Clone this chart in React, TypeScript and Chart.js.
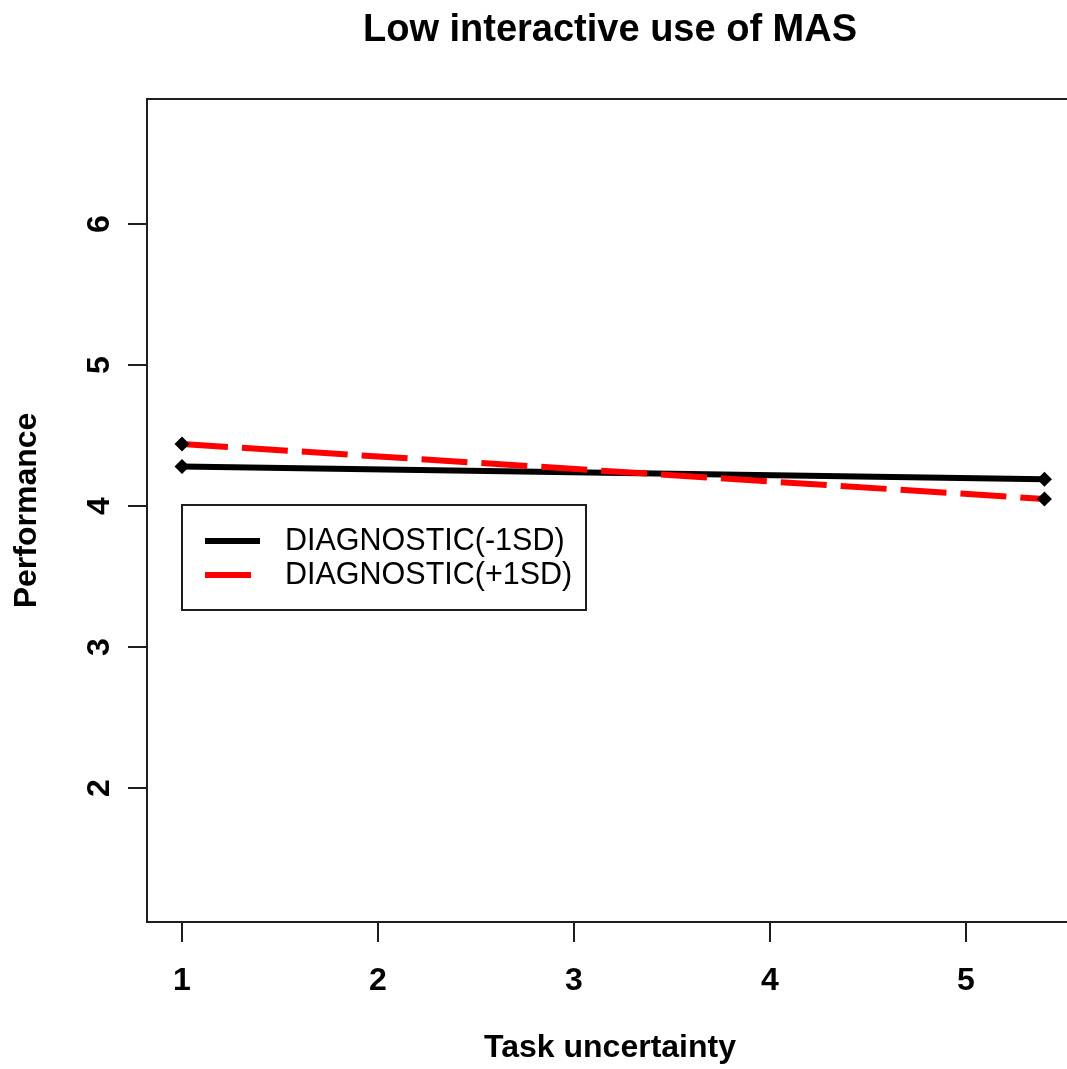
import React, { useEffect, useRef } from "react";
import { Chart, registerables } from "chart.js";

Chart.register(...registerables);

const TITLE = "Low interactive use of MAS";
const X_LABEL = "Task uncertainty";
const Y_LABEL = "Performance";

const xValues = [1, 5.4];
const diagLow = [4.28, 4.19];
const diagHigh = [4.44, 4.05];
const seriesLabels = ["DIAGNOSTIC(-1SD)", "DIAGNOSTIC(+1SD)"];
const xTicks = [1, 2, 3, 4, 5];
const yTicks = [2, 3, 4, 5, 6];

const FONT = '"Liberation Sans", Arial, Helvetica, sans-serif';

const rPlot = {
  id: "rPlot",
  beforeDatasetsDraw(chart: any) {
    const { ctx, chartArea: a, scales } = chart;
    const x = scales.x;
    const y = scales.y;
    ctx.save();
    ctx.strokeStyle = "#1e1e1e";
    ctx.lineWidth = 2;
    ctx.beginPath();
    ctx.moveTo(chart.width + 5, a.top);
    ctx.lineTo(a.left, a.top);
    ctx.lineTo(a.left, a.bottom);
    ctx.lineTo(chart.width + 5, a.bottom);
    ctx.stroke();

    ctx.fillStyle = "#000";
    ctx.font = `bold 32px ${FONT}`;
    ctx.textAlign = "center";
    ctx.textBaseline = "middle";
    ctx.lineWidth = 2;
    for (const t of xTicks) {
      const px = Math.round(x.getPixelForValue(t));
      ctx.beginPath();
      ctx.moveTo(px, a.bottom);
      ctx.lineTo(px, a.bottom + 20);
      ctx.stroke();
      ctx.fillText(String(t), px, 981);
    }
    for (const t of yTicks) {
      const py = Math.round(y.getPixelForValue(t));
      ctx.beginPath();
      ctx.moveTo(a.left - 19, py);
      ctx.lineTo(a.left, py);
      ctx.stroke();
      ctx.save();
      ctx.translate(99, py);
      ctx.rotate(-Math.PI / 2);
      ctx.fillText(String(t), 0, 1);
      ctx.restore();
    }

    ctx.font = `bold 38px ${FONT}`;
    ctx.fillText(TITLE, 610, 31);
    ctx.font = `bold 32px ${FONT}`;
    ctx.fillText(X_LABEL, 610, 1048);
    ctx.save();
    ctx.translate(26, (a.top + a.bottom) / 2);
    ctx.rotate(-Math.PI / 2);
    ctx.fillText(Y_LABEL, 0, 1);
    ctx.restore();
    ctx.restore();
  },
  afterDraw(chart: any) {
    const { ctx } = chart;
    ctx.save();
    ctx.fillStyle = "#fff";
    ctx.fillRect(182, 505, 404, 105);
    ctx.strokeStyle = "#1e1e1e";
    ctx.lineWidth = 2;
    ctx.strokeRect(182, 505, 404, 105);
    const rows = [541, 575];
    chart.data.datasets.forEach((ds: any, i: number) => {
      const yy = rows[i];
      ctx.save();
      ctx.strokeStyle = ds.borderColor;
      ctx.lineWidth = ds.borderWidth;
      ctx.setLineDash(ds.borderDash || []);
      ctx.beginPath();
      ctx.moveTo(205, yy);
      ctx.lineTo(260, yy);
      ctx.stroke();
      ctx.restore();
      ctx.fillStyle = "#000";
      ctx.font = `30.5px ${FONT}`;
      ctx.textAlign = "left";
      ctx.textBaseline = "middle";
      ctx.fillText(ds.label, 285, yy + 1);
    });
    ctx.restore();
  },
};

export default function App() {
  const ref = useRef<HTMLCanvasElement | null>(null);
  useEffect(() => {
    if (!ref.current) return;
    const chart = new Chart(ref.current, {
      type: "line",
      data: {
        datasets: [
          {
            label: seriesLabels[0],
            data: xValues.map((v, i) => ({ x: v, y: diagLow[i] })),
            borderColor: "#000000",
            borderWidth: 6,
            pointStyle: "rectRot",
            pointRadius: 7.5,
            pointBackgroundColor: "#000",
            pointBorderColor: "#000",
            pointBorderWidth: 0,
            order: 1,
          },
          {
            label: seriesLabels[1],
            data: xValues.map((v, i) => ({ x: v, y: diagHigh[i] })),
            borderColor: "#ff0000",
            borderWidth: 6,
            borderDash: [46, 14],
            pointStyle: "rectRot",
            pointRadius: 7.5,
            pointBackgroundColor: "#000",
            pointBorderColor: "#000",
            pointBorderWidth: 0,
            order: 0,
          },
        ],
      },
      options: {
        animation: false,
        responsive: false,
        devicePixelRatio: 1,
        layout: { autoPadding: false, padding: { left: 147, top: 99, right: 0, bottom: 147 } },
        plugins: {
          legend: { display: false },
          title: { display: false },
          tooltip: { enabled: false },
        },
        scales: {
          x: { type: "linear", min: 0.8214, max: 5.515, display: false },
          y: { type: "linear", min: 1.0496, max: 6.8865, display: false },
        },
      },
      plugins: [rPlot],
    });
    return () => chart.destroy();
  }, []);
  return (
    <div style={{ position: "absolute", left: 0, top: 0, width: 1067, height: 1069, background: "#fff" }}>
      <canvas ref={ref} width={1067} height={1069} style={{ display: "block" }} />
    </div>
  );
}
